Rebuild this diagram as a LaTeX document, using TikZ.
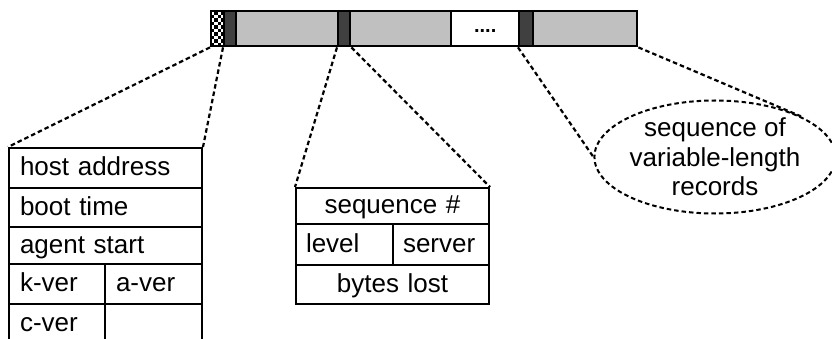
\documentclass[tikz,border=0pt]{standalone}
\usepackage{fontspec}
\setmainfont{Liberation Sans}
\usepackage{tikz}
\usetikzlibrary{shapes}

\definecolor{gris}{RGB}{192,192,192}
\definecolor{sombre}{RGB}{64,64,64}

\begin{document}
\begin{tikzpicture}[x=1pt,y=-1pt,font=\fontsize{26}{29.5}\selectfont]
	\useasboundingbox (0,0) rectangle (832,339);
	\clip (0,0) rectangle (832,339);

	\tikzstyle{seg}=[rectangle,draw=black,line width=2.4pt,anchor=north west,
	minimum height=35pt,inner sep=0pt]
	\tikzstyle{clair}=[seg,fill=gris]
	\tikzstyle{fonce}=[seg,fill=sombre]
	\tikzstyle{champ}=[rectangle,draw=black,line width=2pt,anchor=north west,
	inner xsep=11pt,inner ysep=0pt,align=left,text height=19pt,text depth=4pt]
	\tikzstyle{milieu}=[champ,inner xsep=10pt]

	% le paquet
	\node[seg,fill=white,minimum width=13pt,path picture={
		\foreach \i in {0,...,3} \foreach \j in {0,...,9} {
			\ifodd\numexpr\i+\j\relax
			\fill[black] ([xshift=\i*3.25pt,yshift=-\j*3.5pt]path picture bounding box.north west)
			rectangle ++(3.25pt,-3.5pt);
			\fi}}] (chk) at (210,10) {};
	\node[fonce,minimum width=12pt] (d1) at (223,10) {};
	\node[clair,minimum width=102pt] (g1) at (235,10) {};
	\node[fonce,minimum width=12pt] (d2) at (337,10) {};
	\node[clair,minimum width=101pt] (g2) at (349,10) {};
	\node[seg,fill=white,minimum width=68pt,text height=8pt,text depth=0pt,
	font=\bfseries\fontsize{20}{22}\selectfont] (etc) at (450,10) {....};
	\node[fonce,minimum width=14pt] (d3) at (518,10) {};
	\node[clair,minimum width=104pt] (g3) at (532,10) {};

	% en-tete
	\node[champ,minimum width=193pt,text width=171pt,minimum height=40pt] (host) at (8,147) {host address};
	\node[champ,minimum width=193pt,text width=171pt,minimum height=39pt] (boot) at (8,187) {boot time};
	\node[champ,minimum width=193pt,text width=171pt,minimum height=37pt] (agent) at (8,226) {agent start};
	\node[champ,minimum width=96pt,text width=74pt,minimum height=40pt] (kver) at (8,263) {k-ver};
	\node[champ,minimum width=97pt,text width=75pt,minimum height=40pt] (aver) at (104,263) {a-ver};
	\node[champ,minimum width=96pt,text width=74pt,minimum height=42pt,text depth=7pt] (cver) at (8,303) {c-ver};
	\node[champ,minimum width=97pt,text width=75pt,minimum height=42pt] (vide) at (104,303) {};

	% marqueur
	\node[milieu,minimum width=193pt,text width=173pt,minimum height=36pt,align=center] (seq) at (295,187) {sequence \#\hspace*{18pt}};
	\node[milieu,minimum width=97pt,text width=77pt,minimum height=41pt] (level) at (295,223) {level};
	\node[milieu,minimum width=96pt,text width=76pt,minimum height=41pt] (server) at (392,223) {server};
	\node[milieu,minimum width=193pt,text width=173pt,minimum height=39pt,align=center] (lost) at (295,264) {bytes lost\hspace*{18pt}};

	\tikzstyle{pointille}=[draw=black,line width=2pt,dash pattern=on 4.5pt off 3pt]

	\node[ellipse,pointille,minimum width=230pt,minimum height=113pt,inner sep=0pt,
	align=center] (recs) at (715,157) {sequence of\\variable-length\\records};

	\draw[pointille,line width=2.2pt] (chk.south west) -- (host.north west);
	\draw[pointille,line width=2.2pt] (d1.south west) -- (host.north east);
	\draw[pointille,line width=2.2pt] (d2.south west) -- (seq.north west);
	\draw[pointille,line width=2.2pt] (d2.south east) -- (seq.north east);
	\draw[pointille,line width=2.2pt] (d3.south west) -- (recs.west);
	\draw[pointille,line width=2.2pt] (g3.south east) -- (recs.north east);
\end{tikzpicture}
\end{document}
